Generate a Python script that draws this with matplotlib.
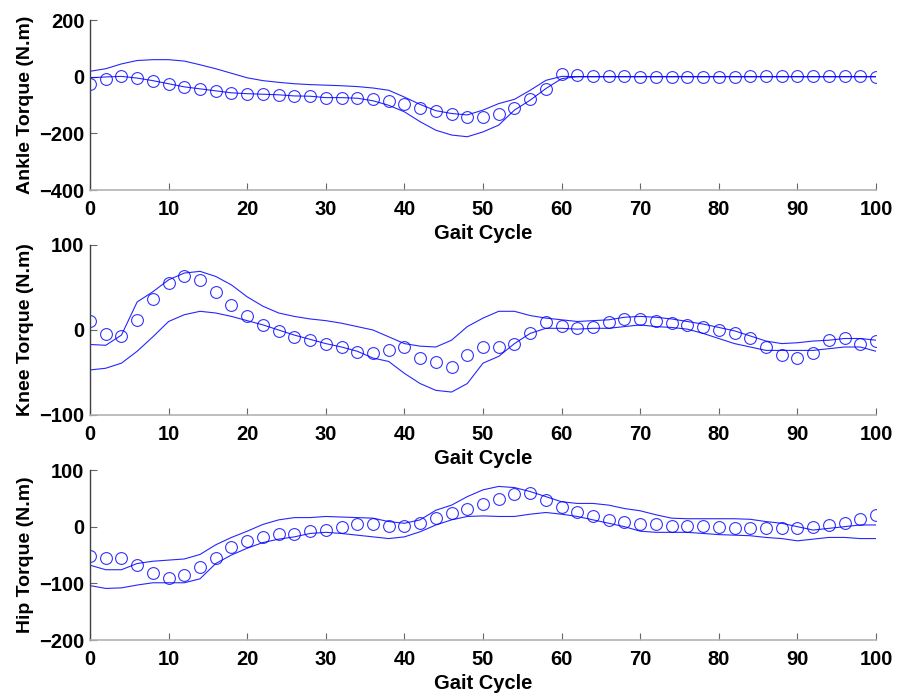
import numpy as np
import matplotlib
matplotlib.use("Agg")
import matplotlib.pyplot as plt

# gait cycle samples (percent)
gait = list(range(0, 101, 2))

# ---- ankle ----
ankle_meas = [-27, -10, 1, -5, -14, -25, -36, -43, -50, -57, -60, -62, -64, -68, -69,
              -74, -74, -74, -80, -87, -97, -109, -121, -131, -142, -144, -132, -109,
              -79, -45, 8, 6, 2, 1, 1, 0, 0, 0, 0, 0, 0, 0, 1, 1, 1, 2, 2, 2, 1, 1, 0]
ankle_upper = [19, 28, 45, 57, 60, 60, 55, 42, 28, 12, -4, -14, -20, -25, -28,
               -30, -32, -35, -40, -48, -72, -98, -120, -130, -135, -118, -95, -80,
               -48, -13, 1, 0, 0, 0, 0, 0, 0, 0, 0, 0, 0, 0, 0, 0, 0, 0, 0, 0, 0, 0, 0]
ankle_lower = [-4, -1, 1, -5, -14, -25, -36, -43, -50, -57, -60, -62, -64, -68, -69,
               -74, -74, -76, -85, -101, -124, -159, -189, -206, -212, -195, -171,
               -118, -83, -42, -7, 0, 0, 0, 0, 0, 0, 0, 0, 0, 0, 0, 0, 0, 0, 0, 0, 0, 0, 0, 0]

# ---- knee ----
knee_meas = [10, -5, -7, 12, 36, 55, 64, 59, 45, 29, 16, 6, -1, -8, -12, -16, -20,
             -26, -27, -24, -20, -33, -38, -44, -30, -20, -20, -16, -3, 9, 5, 2, 4,
             9, 13, 13, 10, 8, 6, 4, 0, -3, -10, -20, -29, -33, -27, -12, -10, -16, -13]
knee_upper = [-17, -18, -6, 33, 45, 59, 67, 69, 63, 53, 39, 28, 20, 16, 13, 11, 8,
              4, 0, -8, -16, -19, -20, -12, 4, 14, 22, 22, 17, 14, 12, 10, 11, 12, 15,
              16, 15, 13, 10, 7, 3, -1, -7, -13, -16, -15, -13, -12, -10, -10, -12]
knee_lower = [-47, -45, -39, -25, -8, 10, 18, 22, 20, 16, 11, 6, 0, -6, -11, -16,
              -20, -25, -33, -37, -51, -63, -71, -73, -63, -39, -31, -16, -4, 2, 2, 1,
              2, 2, 4, 6, 4, 3, 1, -4, -10, -16, -20, -24, -24, -24, -24, -22, -20, -20, -25]

# ---- hip ----
hip_meas = [-51, -55, -55, -68, -81, -90, -86, -72, -55, -36, -25, -19, -13, -13, -8,
            -6, 0, 4, 4, 1, 1, 6, 15, 24, 32, 40, 49, 57, 59, 47, 35, 26, 19, 12, 8,
            5, 4, 2, 1, 1, -1, -2, -2, -2, -2, -3, -1, 3, 7, 14, 21]
hip_upper = [-68, -76, -76, -65, -61, -59, -57, -49, -32, -19, -8, 4, 12, 16, 16, 18,
             17, 16, 15, 9, 6, 12, 29, 38, 53, 65, 71, 69, 62, 53, 44, 41, 41, 38, 32,
             28, 21, 15, 14, 14, 14, 14, 13, 9, 6, 0, -6, -3, 0, 3, 3]
hip_lower = [-104, -109, -108, -103, -99, -99, -99, -92, -65, -50, -38, -28, -22, -18,
             -12, -10, -12, -15, -18, -21, -18, -9, 3, 12, 18, 19, 18, 18, 22, 25, 22,
             18, 12, 6, 0, -8, -10, -10, -10, -12, -14, -15, -16, -19, -21, -25, -22,
             -19, -19, -21, -21]

ylabels = ["Ankle Torque (N.m)", "Knee Torque (N.m)", "Hip Torque (N.m)"]
ylims = [(-400, 200), (-100, 100), (-200, 100)]
yticks = [[-400, -200, 0, 200], [-100, 0, 100], [-200, -100, 0, 100]]
xticks = list(range(0, 101, 10))

plt.rcParams["font.family"] = ["Liberation Sans", "DejaVu Sans"]

fig = plt.figure(figsize=(8.98, 6.95), dpi=100)
left, width, height = 90 / 898, 786 / 898, 170 / 695
bottoms = [1 - 190 / 695, 1 - 415 / 695, 1 - 640 / 695]

series = [(ankle_meas, ankle_upper, ankle_lower),
          (knee_meas, knee_upper, knee_lower),
          (hip_meas, hip_upper, hip_lower)]

blue = "#0000ff"
for i, (meas, up, lo) in enumerate(series):
    ax = fig.add_axes([left, bottoms[i], width, height])
    ax.plot(gait, up, color=blue, lw=0.8, alpha=0.85)
    ax.plot(gait, lo, color=blue, lw=0.8, alpha=0.85)
    ax.plot(gait, meas, linestyle="none", marker="o", markersize=8.5,
            markerfacecolor="none", markeredgecolor=blue, markeredgewidth=0.8,
            alpha=0.8)
    ax.set_xlim(0, 100)
    ax.set_ylim(*ylims[i])
    ax.set_xticks(xticks)
    ax.set_yticks(yticks[i])
    ax.spines["top"].set_visible(False)
    ax.spines["right"].set_visible(False)
    ax.spines["left"].set_color("0.25")
    ax.spines["bottom"].set_color("0.7")
    ax.spines["left"].set_linewidth(1.0)
    ax.spines["bottom"].set_linewidth(1.2)
    ax.tick_params(direction="in", length=5, width=0.8, color="0.4",
                   labelsize=14.5)
    ax.tick_params(axis="x", pad=7)
    ax.tick_params(axis="y", pad=4)
    for lab in ax.get_xticklabels() + ax.get_yticklabels():
        lab.set_fontweight("bold")
    ax.set_xlabel("Gait Cycle", fontsize=14.5, fontweight="bold", labelpad=4)
    ax.set_ylabel(ylabels[i], fontsize=14, fontweight="bold", labelpad=4)

fig.savefig("out.png", dpi=100)
